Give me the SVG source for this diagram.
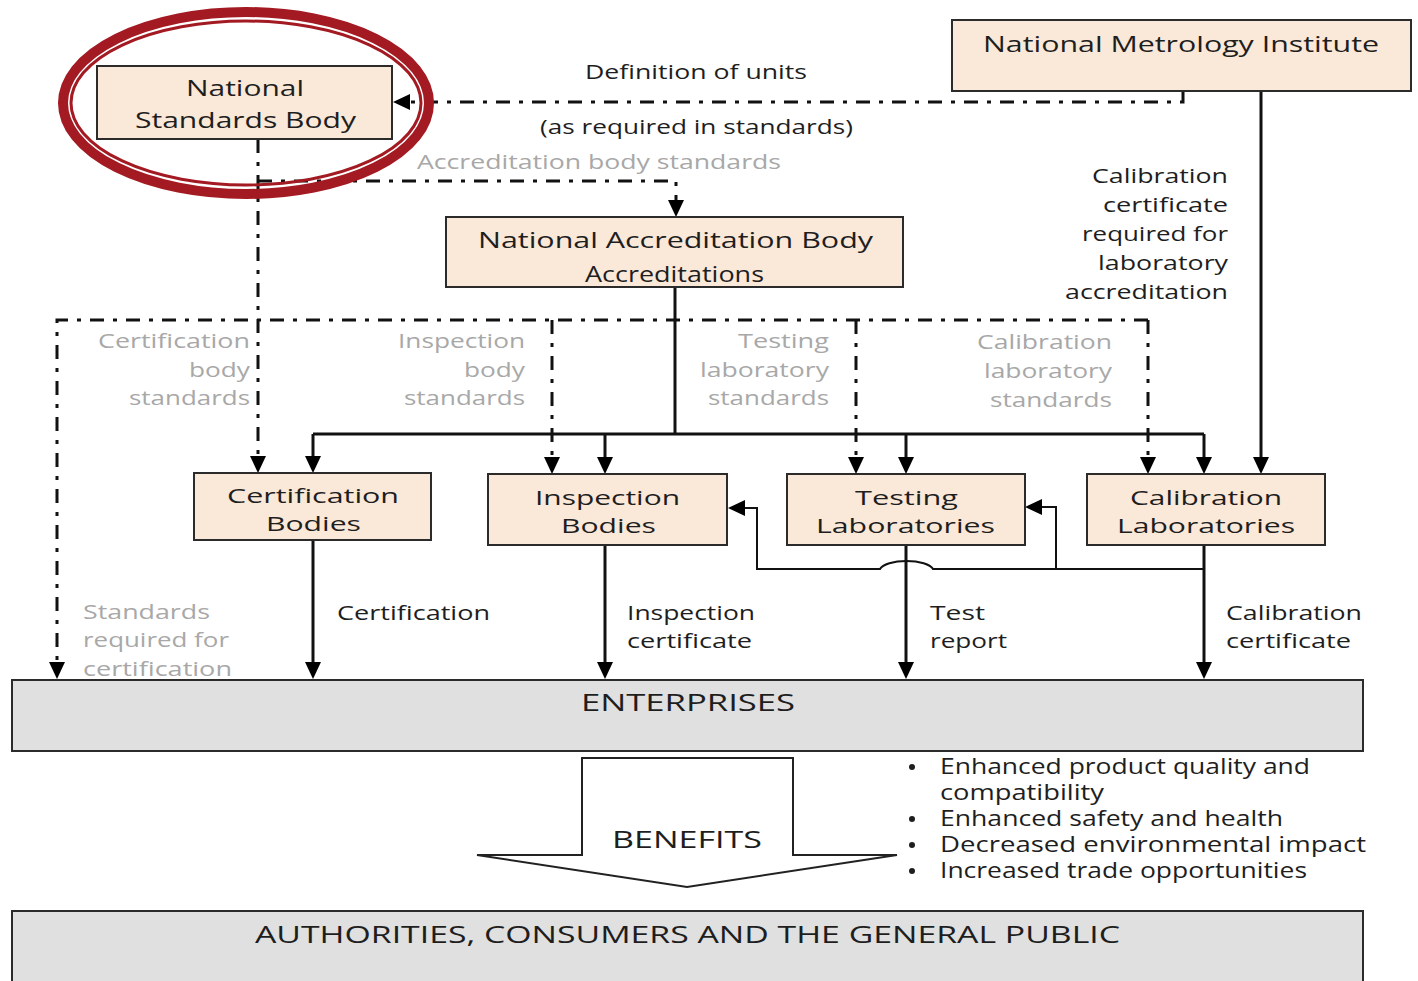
<svg xmlns="http://www.w3.org/2000/svg" width="1418" height="981" viewBox="0 0 1418 981">
<defs>
<style>
text{font-family:"Open Sans","DejaVu Sans",sans-serif;fill:#1e1e1e;font-weight:500;}
.box{fill:#fae8d9;stroke:#2b2b2b;stroke-width:2;}
.grey{fill:#e0e0e0;stroke:#2b2b2b;stroke-width:2;}
.t20{font-size:20px;}
.t21{font-size:21px;}
.tb{font-size:20.5px;}
.t22{font-size:22px;}
.t24{font-size:24px;}
.n{font-weight:400;}
.g{fill:#a8a8a8;font-weight:400;}
.solid{fill:none;stroke:#111;stroke-width:3;}
.thin{fill:none;stroke:#111;stroke-width:2;}
.dash{fill:none;stroke:#111;stroke-width:3;stroke-dasharray:14 9 4 9;}
</style>
<marker id="ah" markerWidth="17" markerHeight="16" refX="13" refY="8" orient="auto" markerUnits="userSpaceOnUse"><path d="M0,0 L17,8 L0,16 Z" fill="#000"/></marker>
</defs>
<rect width="1418" height="981" fill="#fff"/>

<g id="connectors">
<path class="solid" d="M675,287 V434"/>
<path class="solid" d="M313,434 H1204"/>
<path class="solid" d="M313,434 V469" marker-end="url(#ah)"/>
<path class="solid" d="M605,434 V470" marker-end="url(#ah)"/>
<path class="solid" d="M906,434 V470" marker-end="url(#ah)"/>
<path class="solid" d="M1204,434 V470" marker-end="url(#ah)"/>
<path class="solid" d="M1261,91 V470" marker-end="url(#ah)"/>
<path class="solid" d="M313,540 V675" marker-end="url(#ah)"/>
<path class="solid" d="M605,545 V675" marker-end="url(#ah)"/>
<path class="solid" d="M906,545 V675" marker-end="url(#ah)"/>
<path class="solid" d="M1204,545 V675" marker-end="url(#ah)"/>
<path class="thin" d="M1204,569 H933 A27,10 0 0 0 880,569 H757 V508 H732" marker-end="url(#ah)"/>
<path class="thin" d="M1056,569 V507 H1029" marker-end="url(#ah)"/>
<path class="dash" d="M1183,91 V102 H397" marker-end="url(#ah)"/>
<path class="dash" d="M258,139 V469" marker-end="url(#ah)"/>
<path class="dash" d="M258,181 H676 V213" marker-end="url(#ah)"/>
<path class="dash" d="M1148,320 H57 V675" marker-end="url(#ah)"/>
<path class="dash" d="M552,320 V470" marker-end="url(#ah)"/>
<path class="dash" d="M856,320 V470" marker-end="url(#ah)"/>
<path class="dash" d="M1148,320 V470" marker-end="url(#ah)"/>
</g>

<g id="labels">
<text class="t20" x="585" y="79" textLength="222" lengthAdjust="spacingAndGlyphs">Definition of units</text>
<text class="t20" x="540" y="134" textLength="313" lengthAdjust="spacingAndGlyphs">(as required in standards)</text>
<text class="t20 g" x="417" y="169" textLength="364" lengthAdjust="spacingAndGlyphs">Accreditation body standards</text>
<text class="t20" x="1092" y="183" textLength="136" lengthAdjust="spacingAndGlyphs">Calibration</text>
<text class="t20" x="1103" y="212" textLength="125" lengthAdjust="spacingAndGlyphs">certificate</text>
<text class="t20" x="1082" y="241" textLength="146" lengthAdjust="spacingAndGlyphs">required for</text>
<text class="t20" x="1098" y="270" textLength="130" lengthAdjust="spacingAndGlyphs">laboratory</text>
<text class="t20" x="1065" y="299" textLength="163" lengthAdjust="spacingAndGlyphs">accreditation</text>
<text class="t20 g" x="98" y="348" textLength="152" lengthAdjust="spacingAndGlyphs">Certification</text>
<text class="t20 g" x="189" y="377" textLength="61" lengthAdjust="spacingAndGlyphs">body</text>
<text class="t20 g" x="129" y="405" textLength="121" lengthAdjust="spacingAndGlyphs">standards</text>
<text class="t20 g" x="398" y="348" textLength="127" lengthAdjust="spacingAndGlyphs">Inspection</text>
<text class="t20 g" x="464" y="377" textLength="61" lengthAdjust="spacingAndGlyphs">body</text>
<text class="t20 g" x="404" y="405" textLength="121" lengthAdjust="spacingAndGlyphs">standards</text>
<text class="t20 g" x="738" y="348" textLength="91" lengthAdjust="spacingAndGlyphs">Testing</text>
<text class="t20 g" x="700" y="377" textLength="129" lengthAdjust="spacingAndGlyphs">laboratory</text>
<text class="t20 g" x="708" y="405" textLength="121" lengthAdjust="spacingAndGlyphs">standards</text>
<text class="t20 g" x="977" y="349" textLength="135" lengthAdjust="spacingAndGlyphs">Calibration</text>
<text class="t20 g" x="984" y="378" textLength="128" lengthAdjust="spacingAndGlyphs">laboratory</text>
<text class="t20 g" x="990" y="407" textLength="122" lengthAdjust="spacingAndGlyphs">standards</text>
<text class="t20" x="337" y="620" textLength="153" lengthAdjust="spacingAndGlyphs">Certification</text>
<text class="t20" x="627" y="620" textLength="128" lengthAdjust="spacingAndGlyphs">Inspection</text>
<text class="t20" x="627" y="648" textLength="125" lengthAdjust="spacingAndGlyphs">certificate</text>
<text class="t20" x="930" y="620" textLength="55" lengthAdjust="spacingAndGlyphs">Test</text>
<text class="t20" x="930" y="648" textLength="77" lengthAdjust="spacingAndGlyphs">report</text>
<text class="t20" x="1226" y="620" textLength="136" lengthAdjust="spacingAndGlyphs">Calibration</text>
<text class="t20" x="1226" y="648" textLength="125" lengthAdjust="spacingAndGlyphs">certificate</text>
<text class="t20 g" x="83" y="619" textLength="127" lengthAdjust="spacingAndGlyphs">Standards</text>
<text class="t20 g" x="83" y="647" textLength="146" lengthAdjust="spacingAndGlyphs">required for</text>
<text class="t20 g" x="83" y="676" textLength="149" lengthAdjust="spacingAndGlyphs">certification</text>
</g>

<g id="nsb">
<rect class="box" x="97" y="66" width="295" height="73"/>
<text class="t22" x="186" y="96" textLength="118" lengthAdjust="spacingAndGlyphs">National</text>
<text class="t22" x="135" y="128" textLength="221" lengthAdjust="spacingAndGlyphs">Standards Body</text>
</g>

<g id="nmi">
<rect class="box" x="952" y="20" width="459" height="71"/>
<text class="t21" x="983" y="52" textLength="396" lengthAdjust="spacingAndGlyphs">National Metrology Institute</text>
</g>

<g id="nab">
<rect class="box" x="446" y="217" width="457" height="70"/>
<text class="t21" x="478" y="248" textLength="395" lengthAdjust="spacingAndGlyphs">National Accreditation Body</text>
<text class="t21" x="585" y="282" textLength="179" lengthAdjust="spacingAndGlyphs">Accreditations</text>
</g>

<g id="cert">
<rect class="box" x="194" y="473" width="237" height="67"/>
<text class="tb" x="227" y="503" textLength="172" lengthAdjust="spacingAndGlyphs">Certification</text>
<text class="tb" x="266" y="531" textLength="95" lengthAdjust="spacingAndGlyphs">Bodies</text>
</g>

<g id="insp">
<rect class="box" x="488" y="474" width="239" height="71"/>
<text class="tb" x="535" y="505" textLength="145" lengthAdjust="spacingAndGlyphs">Inspection</text>
<text class="tb" x="561" y="533" textLength="95" lengthAdjust="spacingAndGlyphs">Bodies</text>
</g>

<g id="test">
<rect class="box" x="787" y="474" width="238" height="71"/>
<text class="tb" x="855" y="505" textLength="103" lengthAdjust="spacingAndGlyphs">Testing</text>
<text class="tb" x="816" y="533" textLength="179" lengthAdjust="spacingAndGlyphs">Laboratories</text>
</g>

<g id="calib">
<rect class="box" x="1087" y="474" width="238" height="71"/>
<text class="tb" x="1130" y="505" textLength="152" lengthAdjust="spacingAndGlyphs">Calibration</text>
<text class="tb" x="1117" y="533" textLength="178" lengthAdjust="spacingAndGlyphs">Laboratories</text>
</g>

<g id="enterprises">
<rect class="grey" x="12" y="680" width="1351" height="71"/>
<text class="t24 n" x="581" y="711" textLength="214" lengthAdjust="spacingAndGlyphs">ENTERPRISES</text>
</g>

<g id="benefits">
<polygon points="582,758 793,758 793,855 897,855 687,887 477,855 582,855" fill="#fff" stroke="#222" stroke-width="2"/>
<text class="t24 n" x="612" y="848" textLength="150" lengthAdjust="spacingAndGlyphs">BENEFITS</text>
</g>

<g id="bullets">
<circle cx="912" cy="767" r="3" fill="#1e1e1e"/>
<circle cx="912" cy="819" r="3" fill="#1e1e1e"/>
<circle cx="912" cy="845" r="3" fill="#1e1e1e"/>
<circle cx="912" cy="871" r="3" fill="#1e1e1e"/>
<text class="t21 n" x="940" y="774" textLength="370" lengthAdjust="spacingAndGlyphs">Enhanced product quality and</text>
<text class="t21 n" x="940" y="800" textLength="164" lengthAdjust="spacingAndGlyphs">compatibility</text>
<text class="t21 n" x="940" y="826" textLength="343" lengthAdjust="spacingAndGlyphs">Enhanced safety and health</text>
<text class="t21 n" x="940" y="852" textLength="426" lengthAdjust="spacingAndGlyphs">Decreased environmental impact</text>
<text class="t21 n" x="940" y="878" textLength="367" lengthAdjust="spacingAndGlyphs">Increased trade opportunities</text>
</g>

<g id="authorities">
<rect class="grey" x="12" y="911" width="1351" height="80"/>
<text class="t24 n" x="255" y="943" textLength="865" lengthAdjust="spacingAndGlyphs">AUTHORITIES, CONSUMERS AND THE GENERAL PUBLIC</text>
</g>

<g id="highlight">
<ellipse cx="246" cy="103" rx="183" ry="91" fill="none" stroke="#a31a22" stroke-width="10"/>
<ellipse cx="246" cy="103" rx="175" ry="82" fill="none" stroke="#a31a22" stroke-width="3"/>
</g>
</svg>
